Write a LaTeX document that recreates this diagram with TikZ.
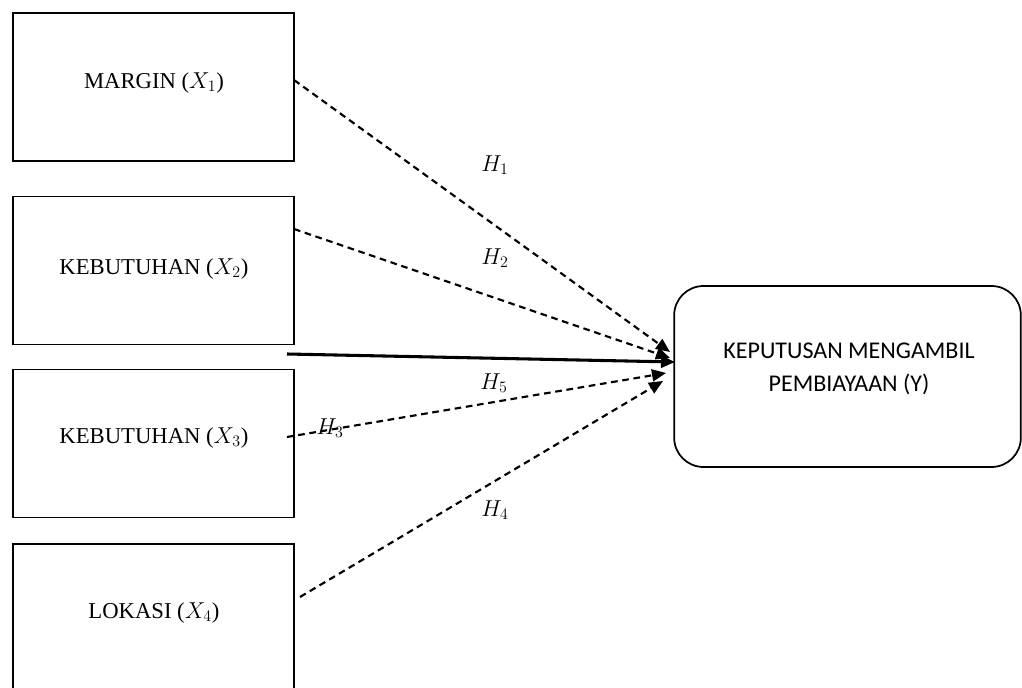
\documentclass[tikz,border=0pt]{standalone}
\usepackage{fontspec}
\setmainfont{Liberation Serif}
\newfontfamily\calibrifont{Carlito}
\usetikzlibrary{arrows.meta}
\begin{document}
\begin{tikzpicture}[x=0.75pt,y=-0.75pt,
  varbox/.style={draw,line width=1.3pt,rectangle,minimum width=210.75pt,minimum height=111pt,inner sep=0pt},
  ybox/.style={draw,line width=1.3pt,rectangle,rounded corners=22pt,minimum width=260pt,minimum height=135.75pt,inner sep=0pt},
  vtxt/.style={font=\fontsize{17}{20}\selectfont,inner sep=0pt},
  ytxt/.style={font=\calibrifont\fontsize{18}{24.75}\selectfont,align=center,inner sep=0pt},
  hlab/.style={font=\fontsize{18}{21}\selectfont,inner sep=0pt},
  hyp/.style={line width=1.6pt,dash pattern=on 5pt off 3.5pt,-{Triangle[length=10.5pt,width=9pt]}},
  solidarr/.style={line width=2.3pt,-{Triangle[length=10.5pt,width=9pt]}}]
\useasboundingbox (0,0) rectangle (1022,688);
% boxes
\node[varbox] (b1) at (153.5,87) {};
\node[varbox] (b2) at (153.5,270.5) {};
\node[varbox] (b3) at (153.5,443.5) {};
\node[varbox] (b4) at (153.5,618) {};
\node[ybox] (y) at (847.5,376.5) {};
% texts
\node[vtxt] (t1) at (154,83) {MARGIN ($X_1$)};
\node[vtxt] (t2) at (154,269) {KEBUTUHAN ($X_2$)};
\node[vtxt] (t3) at (154,438) {KEBUTUHAN ($X_3$)};
\node[vtxt] (t4) at (154,613) {LOKASI ($X_4$)};
\node[ytxt] (ty) at (849,369) {KEPUTUSAN MENGAMBIL\\PEMBIAYAAN (Y)};
% connector end points
\coordinate (s1) at (294,80);
\coordinate (s2) at (294,229);
\coordinate (s5) at (287,354);
\coordinate (s3) at (287,437);
\coordinate (s4) at (300,597);
\coordinate (e1) at (670,352);
\coordinate (e2) at (670,358);
\coordinate (e5) at (675,362);
\coordinate (e3) at (666,373);
\coordinate (e4) at (663,381);
% connectors
\draw[hyp] (s1) -- (e1);
\draw[hyp] (s2) -- (e2);
\draw[solidarr] (s5) -- (e5);
\draw[hyp] (s3) -- (e3);
\draw[hyp] (s4) -- (e4);
% labels
\node[hlab] (h1) at (495,165) {$H_1$};
\node[hlab] (h2) at (495,258) {$H_2$};
\node[hlab] (h5) at (494,383) {$H_5$};
\node[hlab] (h3) at (330,428) {$H_3$};
\node[hlab] (h4) at (495,510) {$H_4$};
\end{tikzpicture}
\end{document}
